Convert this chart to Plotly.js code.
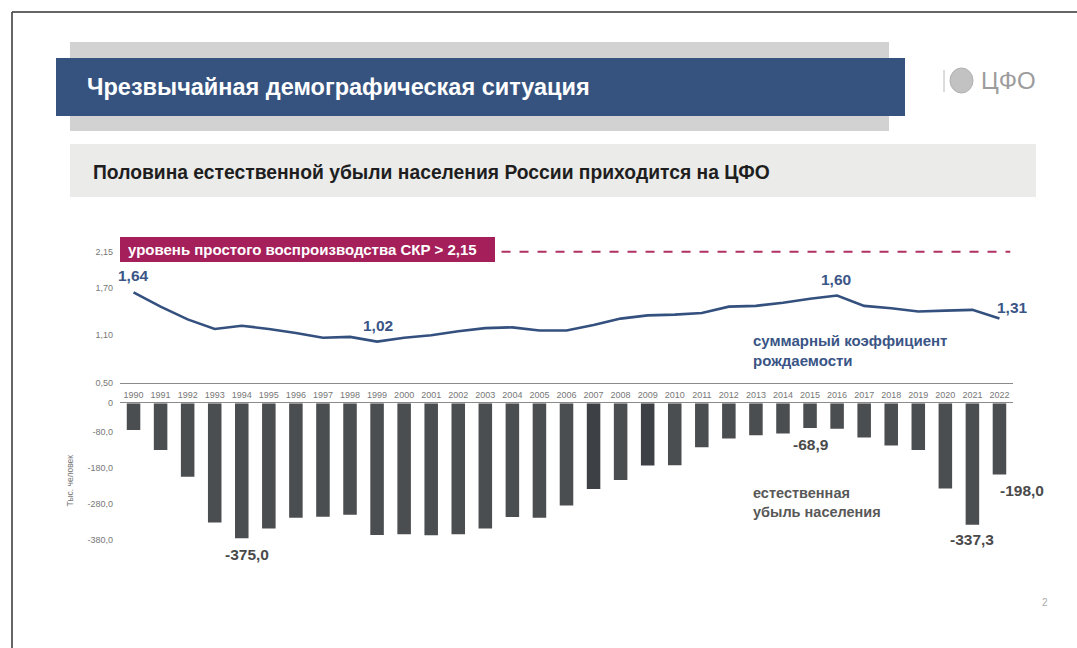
<!DOCTYPE html>
<html>
<head>
<meta charset="utf-8">
<script src="https://cdn.plot.ly/plotly-3.0.1.min.js"></script>
<style>
  html, body { margin: 0; padding: 0; background: #ffffff; }
  #chart { width: 1077px; height: 648px; }
</style>
</head>
<body>
<div id="chart"></div>
<script>
// ---------------- DATA ----------------
const years = [1990,1991,1992,1993,1994,1995,1996,1997,1998,1999,2000,2001,2002,2003,2004,2005,2006,
               2007,2008,2009,2010,2011,2012,2013,2014,2015,2016,2017,2018,2019,2020,2021,2022];
// суммарный коэффициент рождаемости (ЦФО)
const tfr = [1.64,1.46,1.30,1.18,1.22,1.18,1.13,1.07,1.08,1.02,1.07,1.10,1.15,1.19,1.20,1.16,1.16,
             1.23,1.31,1.35,1.36,1.38,1.46,1.47,1.51,1.56,1.60,1.47,1.44,1.40,1.41,1.42,1.31];
// естественная убыль населения, тыс. человек
const naturalDecrease = [-74,-130,-204,-331,-375.0,-348,-318,-315,-310,-366,-364,-367,-364,-348,-316,-318,-284,
                         -238,-213,-173,-172,-122,-98,-89,-84,-68.9,-71,-95,-117,-130,-237,-337.3,-198.0];
const replacementLevel = 2.15;
const tfrLabelYears = [1990, 1999, 2016, 2022];
const decLabelYears = [1994, 2015, 2021, 2022];
const tfrTicks = [0.5, 1.1, 1.7, 2.15];
const decTicks = [0, -80, -180, -280, -380];
const texts = {
  title: 'Чрезвычайная демографическая ситуация',
  subtitle: 'Половина естественной убыли населения России приходится на ЦФО',
  tfrName: 'суммарный коэффициент<br>рождаемости',
  decName: 'естественная<br>убыль населения',
  refLabel: 'уровень простого воспроизводства СКР > ',
  unit: 'Тыс. человек',
  logo: 'ЦФО',
  page: '2'
};

// ---------------- HELPERS ----------------
const W = 1077, H = 648;
const M = {l: 120, r: 64, t: 236, b: 90};
const PW = W - M.l - M.r, PH = H - M.t - M.b;
const px = x => (x - M.l) / PW;
const py = y => (H - M.b - y) / PH;
const ru = (v, d) => v.toFixed(d).replace('.', ',');

const FONT = '"Liberation Sans", Arial, sans-serif';
const BLUE = '#34507e';
const BAR = '#4b4e50';
const barColors = years.map(y => (y === 2007 || y === 2009) ? '#3d4044' : BAR);

// ---------------- TRACES ----------------
const bars = {
  type: 'bar', x: years, y: naturalDecrease, xaxis: 'x', yaxis: 'y',
  marker: {color: barColors}, width: 0.5, hoverinfo: 'x+y', showlegend: false
};
const line = {
  type: 'scatter', mode: 'lines', x: years, y: tfr, xaxis: 'x2', yaxis: 'y2',
  line: {color: BLUE, width: 2.6}, hoverinfo: 'x+y', showlegend: false
};

// ---------------- ANNOTATIONS ----------------
const ann = [];
const tfrShift = {1990: [0, 17], 1999: [1, 16], 2016: [-1, 16], 2022: [13, 11]};
tfrLabelYears.forEach(yr => {
  const i = years.indexOf(yr);
  ann.push({xref: 'x2', yref: 'y2', x: yr, y: tfr[i], text: ru(tfr[i], 2), showarrow: false,
            xshift: tfrShift[yr][0], yshift: tfrShift[yr][1],
            font: {family: FONT, size: 15.5, color: '#3a5586', weight: 'bold'}});
});
const decShift = {1994: [5, -16], 2015: [1, -16], 2021: [0, -15], 2022: [23, -16]};
decLabelYears.forEach(yr => {
  const i = years.indexOf(yr);
  ann.push({xref: 'x', yref: 'y', x: yr, y: naturalDecrease[i], text: ru(naturalDecrease[i], 1), showarrow: false,
            xshift: decShift[yr][0], yshift: decShift[yr][1],
            font: {family: FONT, size: 15.5, color: '#4a4a4a', weight: 'bold'}});
});
// series names
ann.push({xref: 'paper', yref: 'paper', x: px(751), y: py(330), xanchor: 'left', yanchor: 'top', align: 'left',
          text: texts.tfrName, showarrow: false,
          font: {family: FONT, size: 15, color: '#3a5586', weight: 'bold'}});
ann.push({xref: 'paper', yref: 'paper', x: px(751), y: py(483), xanchor: 'left', yanchor: 'top', align: 'left',
          text: texts.decName, showarrow: false,
          font: {family: FONT, size: 14.5, color: '#585858', weight: 'bold'}});
// reference label in magenta box
ann.push({xref: 'paper', yref: 'paper', x: px(126), y: py(249.5), xanchor: 'left', yanchor: 'middle',
          text: texts.refLabel + ru(replacementLevel, 2), showarrow: false,
          font: {family: FONT, size: 15, color: '#ffffff', weight: 'bold'}});
// header texts
ann.push({xref: 'paper', yref: 'paper', x: px(85), y: py(87), xanchor: 'left', yanchor: 'middle',
          text: texts.title, showarrow: false,
          font: {family: FONT, size: 23.5, color: '#ffffff', weight: 'bold'}});
ann.push({xref: 'paper', yref: 'paper', x: px(91), y: py(172), xanchor: 'left', yanchor: 'middle',
          text: texts.subtitle, showarrow: false,
          font: {family: FONT, size: 19.3, color: '#1e1e1e', weight: 'bold'}});
ann.push({xref: 'paper', yref: 'paper', x: px(979), y: py(80), xanchor: 'left', yanchor: 'middle',
          text: texts.logo, showarrow: false,
          font: {family: FONT, size: 24, color: '#9c9c9c'}});
ann.push({xref: 'paper', yref: 'paper', x: px(1045), y: py(602), xanchor: 'center', yanchor: 'middle',
          text: texts.page, showarrow: false,
          font: {family: FONT, size: 10, color: '#aaaaaa'}});

// ---------------- SHAPES ----------------
const shapes = [
  // header grey band
  {type: 'rect', xref: 'paper', yref: 'paper', x0: px(70), x1: px(889), y0: py(131), y1: py(42),
   fillcolor: '#d2d2d2', line: {width: 0}, layer: 'below'},
  // blue title bar
  {type: 'rect', xref: 'paper', yref: 'paper', x0: px(56), x1: px(905), y0: py(116), y1: py(58),
   fillcolor: '#36537f', line: {width: 0}, layer: 'below'},
  // subtitle band
  {type: 'rect', xref: 'paper', yref: 'paper', x0: px(70), x1: px(1036), y0: py(197), y1: py(144),
   fillcolor: '#ebebea', line: {width: 0}, layer: 'below'},
  // emblem placeholder
  {type: 'line', xref: 'paper', yref: 'paper', x0: px(944), x1: px(944), y0: py(92), y1: py(70),
   line: {color: '#d0d0d0', width: 1.5}},
  {type: 'circle', xref: 'paper', yref: 'paper', x0: px(950), x1: px(973), y0: py(93), y1: py(68),
   fillcolor: '#c2c2c2', line: {color: '#b0b0b0', width: 1}},
  // magenta reference box
  {type: 'rect', xref: 'paper', yref: 'paper', x0: px(120), x1: px(495), y0: py(262), y1: py(237),
   fillcolor: '#a51f5b', line: {width: 0}},
  // replacement level dashed line
  {type: 'line', xref: 'x2', yref: 'y2', x0: 2003.6, x1: 2022.4, y0: replacementLevel, y1: replacementLevel,
   line: {color: '#b13062', width: 2, dash: 'dash'}},
  // page frame
  {type: 'line', xref: 'paper', yref: 'paper', x0: px(12), x1: px(1077), y0: py(12), y1: py(12),
   line: {color: '#333333', width: 1.5}},
  {type: 'line', xref: 'paper', yref: 'paper', x0: px(12), x1: px(12), y0: py(12), y1: py(648),
   line: {color: '#333333', width: 1.5}}
];

// ---------------- LAYOUT ----------------
const tickFont = {family: FONT, size: 9, color: '#777777'};
const layout = {
  width: W, height: H, autosize: false,
  margin: M,
  paper_bgcolor: '#ffffff', plot_bgcolor: 'rgba(0,0,0,0)',
  showlegend: false,
  font: {family: FONT},
  xaxis: {
    domain: [0, 1], range: [1989.5, 2022.5], anchor: 'y', side: 'top',
    tickvals: years, ticktext: years.map(String), tickfont: tickFont,
    ticks: '', showgrid: false, zeroline: false,
    showline: true, linecolor: '#8a8a8a', linewidth: 1.5, fixedrange: true
  },
  yaxis: {
    domain: [0, 0.4804], range: [-430, 0], anchor: 'x',
    tickvals: decTicks, ticktext: decTicks.map(v => v === 0 ? '0' : ru(v, 1)), tickfont: tickFont,
    ticks: '', ticklabelstandoff: 6, showgrid: false, zeroline: false, showline: false,
    title: {text: texts.unit, font: {family: FONT, size: 8.5, color: '#777777'}, standoff: 12},
    fixedrange: true
  },
  xaxis2: {
    domain: [0, 1], range: [1989.5, 2022.5], anchor: 'y2',
    showticklabels: false, ticks: '', showgrid: false, zeroline: false,
    showline: true, linecolor: '#8a8a8a', linewidth: 1.5, fixedrange: true
  },
  yaxis2: {
    domain: [0.5435, 1], range: [0.5, 2.349], anchor: 'x2',
    tickvals: tfrTicks, ticktext: tfrTicks.map(v => ru(v, 2)), tickfont: tickFont,
    ticks: '', ticklabelstandoff: 6, showgrid: false, zeroline: false, showline: false, fixedrange: true
  },
  annotations: ann,
  shapes: shapes
};

Plotly.newPlot('chart', [bars, line], layout, {displayModeBar: false, staticPlot: true});
</script>
</body>
</html>
